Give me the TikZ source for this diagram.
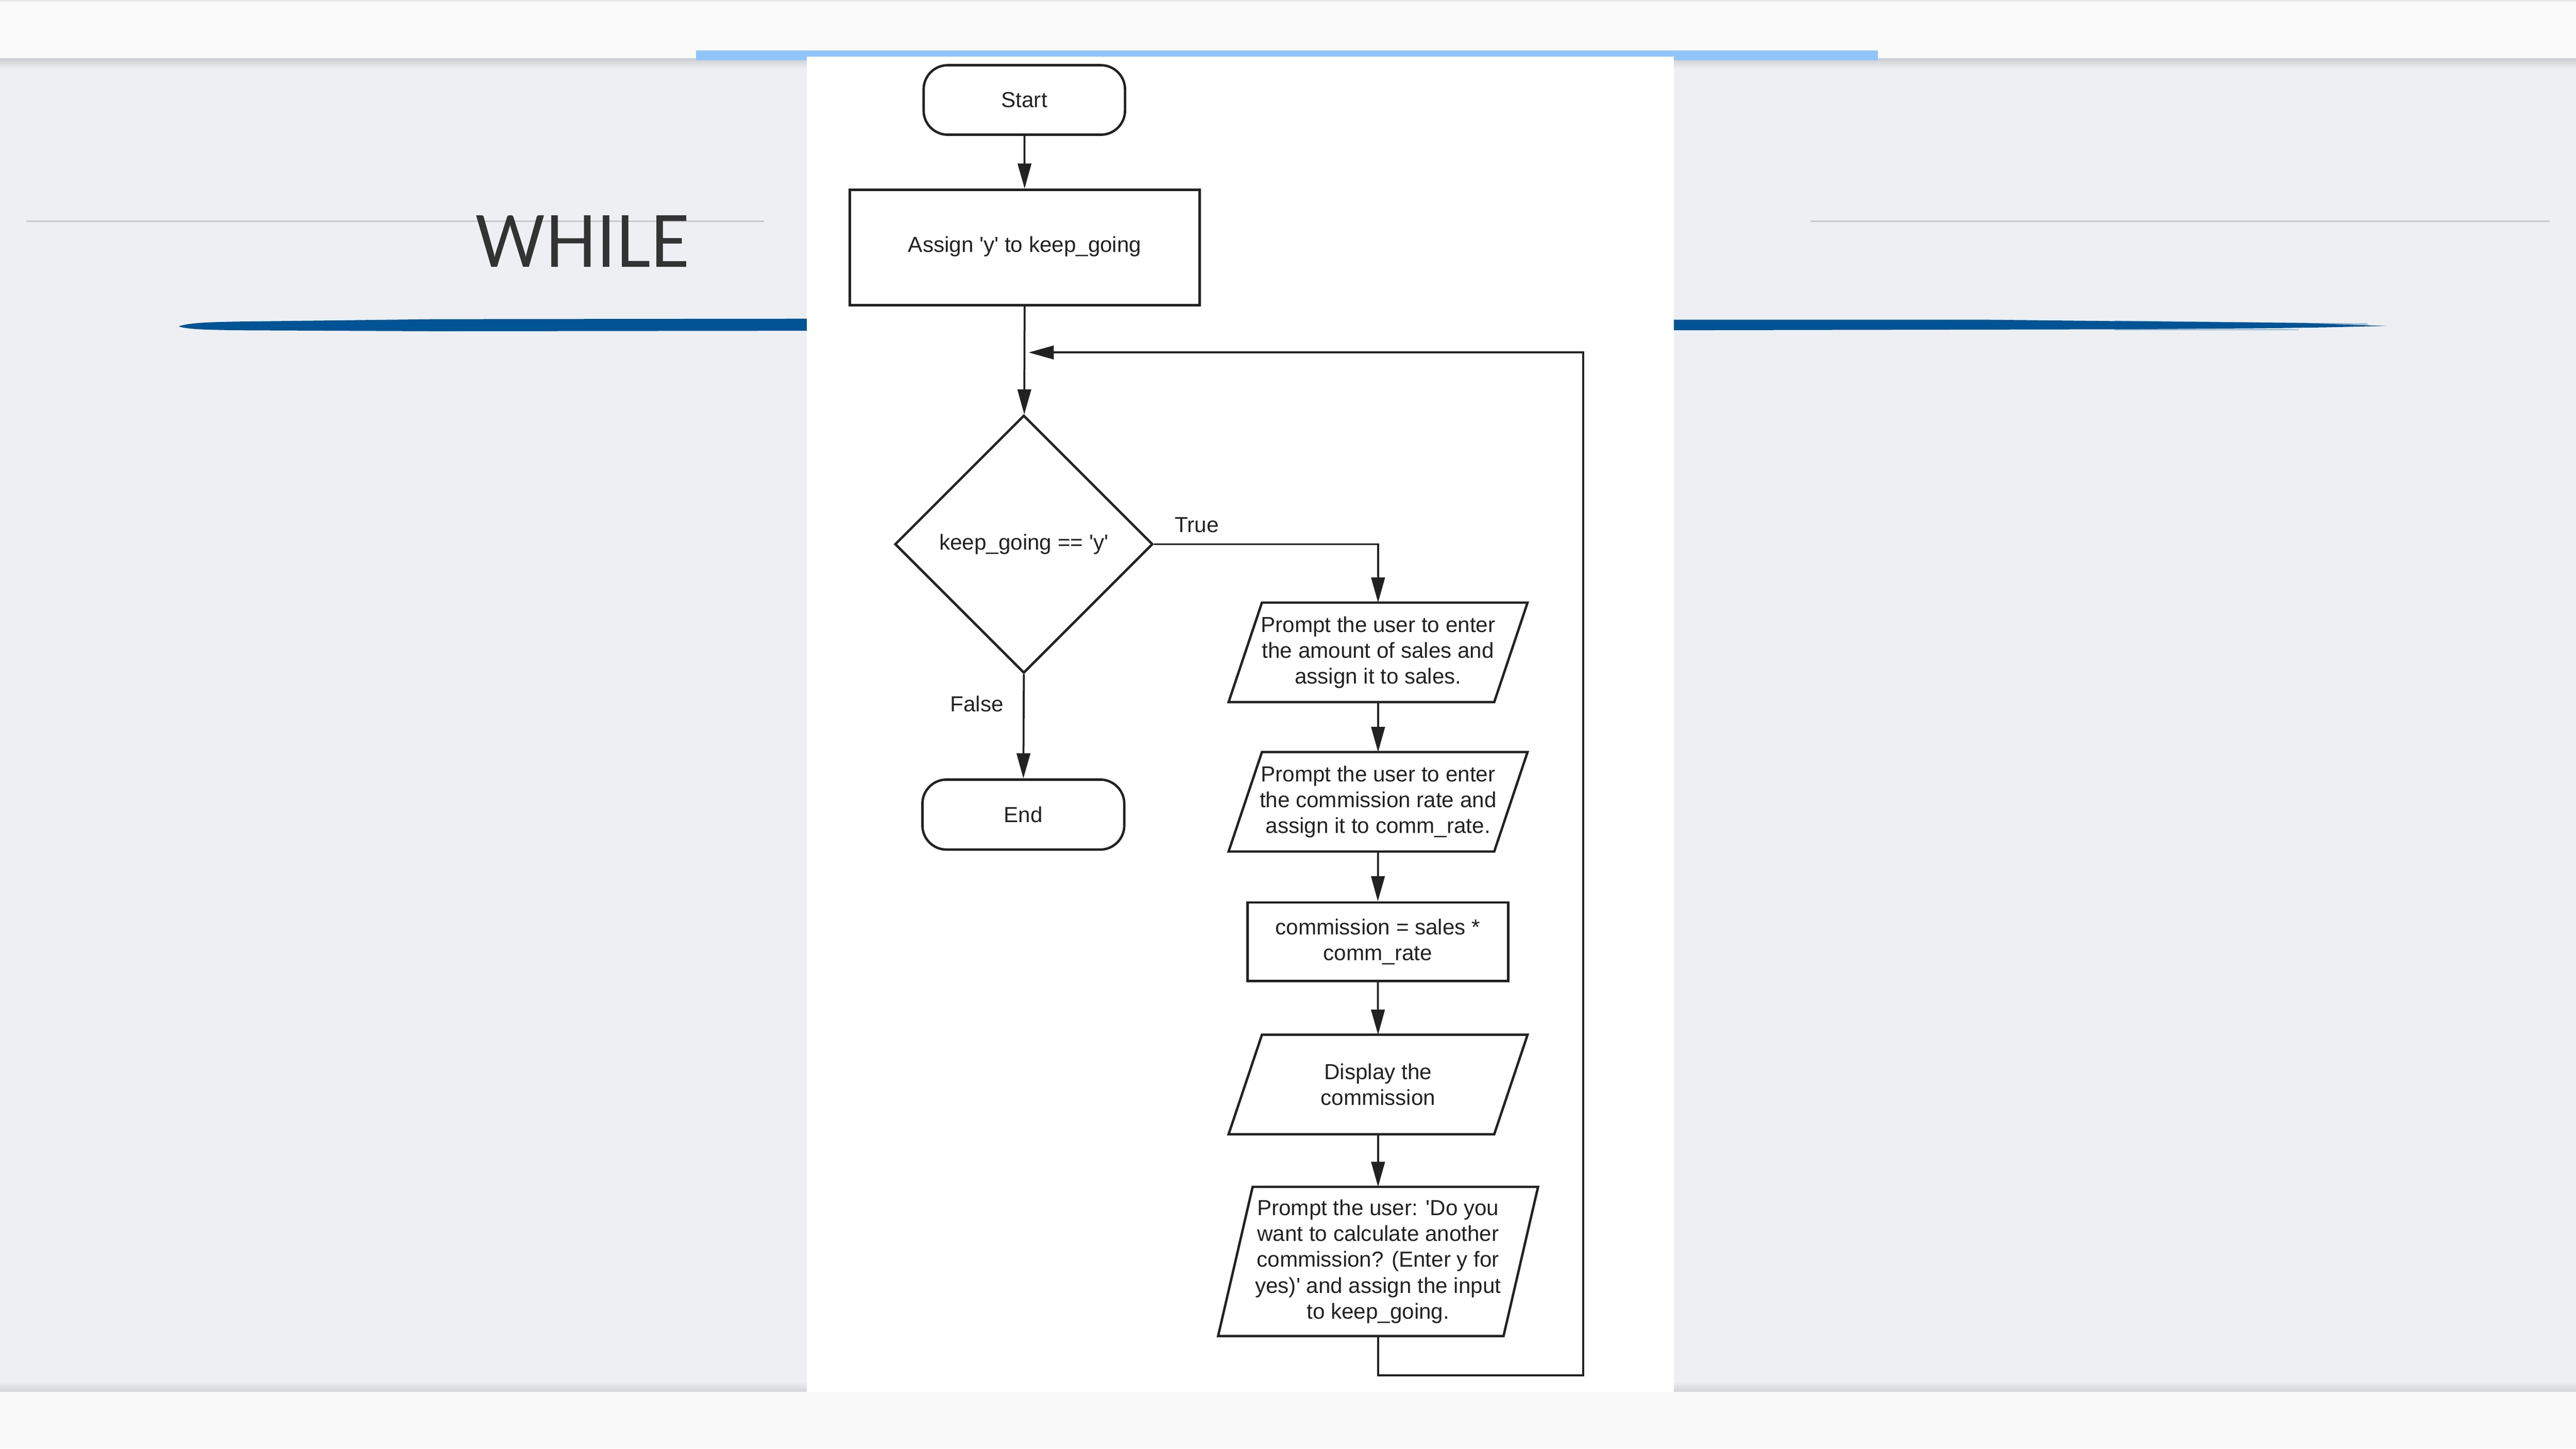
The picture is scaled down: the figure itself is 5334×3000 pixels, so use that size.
\documentclass[tikz,border=0pt]{standalone}
\usepackage{fontspec}
\setmainfont{Liberation Sans}
\newfontfamily\titlefont{Lato}
\usetikzlibrary{arrows.meta,calc,shapes.geometric}
\definecolor{bgc}{HTML}{EEEFF3}
\definecolor{bandc}{HTML}{FAFAFA}
\definecolor{botc}{HTML}{F9F9F9}
\definecolor{barc}{HTML}{90C5FA}
\definecolor{brandc}{HTML}{005496}
\definecolor{rulec}{HTML}{C8C8CC}
\definecolor{inkc}{HTML}{222222}
\definecolor{titlec}{HTML}{333333}
\definecolor{topline}{HTML}{E6E6E8}
\tikzset{
  flowtext/.style={font=\fontsize{9pt}{10.7pt}\selectfont, text=inkc, align=center, inner sep=0pt},
  boxline/.style={draw=inkc, line width=1pt, line join=miter},
  termbox/.style={flowtext, boxline, rounded corners=10pt, minimum width=83.4pt, minimum height=28.8pt},
  procbox/.style={flowtext, boxline},
  iobox/.style={flowtext, minimum width=109.6pt, minimum height=40.8pt},
  decbox/.style={flowtext, boxline, diamond, aspect=1, minimum width=106.8pt, minimum height=106.8pt},
  conn/.style={draw=inkc, line width=0.8pt, -{Triangle[length=10.4pt,width=5.6pt]}},
  flowlabel/.style={font=\fontsize{9pt}{10.7pt}\selectfont, text=inkc, inner sep=0pt},
}
\newcommand\parashape[2]{\draw[boxline] ($(#1.north west)+(#2,0)$) -- ($(#1.north east)+(#2,0)$) -- ($(#1.south east)-(#2,0)$) -- ($(#1.south west)-(#2,0)$) -- cycle;}
\begin{document}
\begin{tikzpicture}[x=0.2pt,y=-0.2pt]
\useasboundingbox (0,0) rectangle (5334,3000);
% background
\fill[bgc] (0,0) rectangle (5334,3000);
\fill[bandc] (0,0) rectangle (5334,121);
\fill[topline] (0,0) rectangle (5334,3);
\shade[top color=black!14!bgc, bottom color=bgc] (0,121) rectangle (5334,142);
\shade[top color=bgc, bottom color=black!11!bgc] (0,2860) rectangle (5334,2882);
\fill[barc] (1441,105) rectangle (3888,125);
% header rules
\draw[rulec, line width=0.6pt] (54,458) -- (1582,458);
\draw[rulec, line width=0.6pt] (3749,458) -- (5280,458);
% title
\node[anchor=base west, inner sep=0pt, font=\titlefont\fontsize{29.8pt}{30pt}\selectfont, text=titlec] (title) at (983,553) {\scalebox{0.94}[1]{WHILE}};
% brush strokes
\fill[brandc] (370,676) .. controls (390,668) and (440,667) .. (491,666) -- (900,661) -- (1680,660) -- (1680,685) -- (900,686) -- (491,684) .. controls (440,683) and (390,683) .. (370,676) -- cycle;
\fill[brandc] (3460,662) -- (4104,662) -- (4379,665) -- (4770,669) -- (4942,675) -- (4815,678) -- (4678,680) -- (4379,682) -- (3460,684) -- cycle;
\fill[brandc, opacity=0.45] (4379,664) -- (4900,670) -- (4905,672) -- (4379,667) -- cycle;
\fill[brandc, opacity=0.35] (4379,681) -- (4760,682) -- (4760,684) -- (4379,684) -- cycle;
% white panel
\fill[white] (1671,117) rectangle (3466,2882);
\fill[botc] (0,2882) rectangle (5334,3000);
% flowchart
\node[termbox] (start) at (2121,207) {Start};
\node[procbox, minimum width=144.8pt, minimum height=47.8pt] (assign) at (2122,512.5) {\raisebox{2.6pt}{Assign \textquotesingle y\textquotesingle{} to keep\_going}};
\node[decbox] (dia) at (2120,1127) {keep\_going == \textquotesingle y\textquotesingle};
\node[termbox, minimum width=83.6pt, minimum height=29pt] (end) at (2119,1687) {End};
\node[iobox] (p1) at (2853.5,1351) {Prompt the user to enter\\the amount of sales and\\assign it to sales.};
\parashape{p1}{34.5}
\node[iobox] (p2) at (2853.5,1660.5) {Prompt the user to enter\\the commission rate and\\assign it to comm\_rate.};
\parashape{p2}{34.5}
\node[procbox, minimum width=108pt, minimum height=32.6pt] (comm) at (2853,1950.5) {commission = sales *\\comm\_rate};
\node[iobox] (disp) at (2853.5,2246) {Display the\\commission};
\parashape{disp}{34.5}
\node[iobox, minimum width=117.8pt, minimum height=61.4pt] (p3) at (2853.5,2612.5) {Prompt the user: \textquotesingle Do you\\want to calculate another\\commission? (Enter y for\\yes)\textquotesingle{} and assign the input\\to keep\_going.};
\parashape{p3}{35.75}
\coordinate (loopR) at (3278,2848);
\coordinate (loopTip) at (2130,730);
\node[flowlabel, anchor=base west] (truelbl) at (2432,1103) {True};
\node[flowlabel, anchor=base east] (falselbl) at (2079,1474) {False};
% connectors
\draw[conn] (start) -- (assign);
\draw[conn] (assign) -- (dia);
\draw[conn] (dia.east) -| (p1.north);
\draw[conn] (dia.south) -- (end.north);
\draw[conn] (p1.south) -- (p2.north);
\draw[conn] (p2.south) -- (comm.north);
\draw[conn] (comm.south) -- (disp.north);
\draw[conn] (disp.south) -- (p3.north);
\draw[conn] (p3.south) |- (loopR) |- (loopTip);
\end{tikzpicture}
\end{document}
